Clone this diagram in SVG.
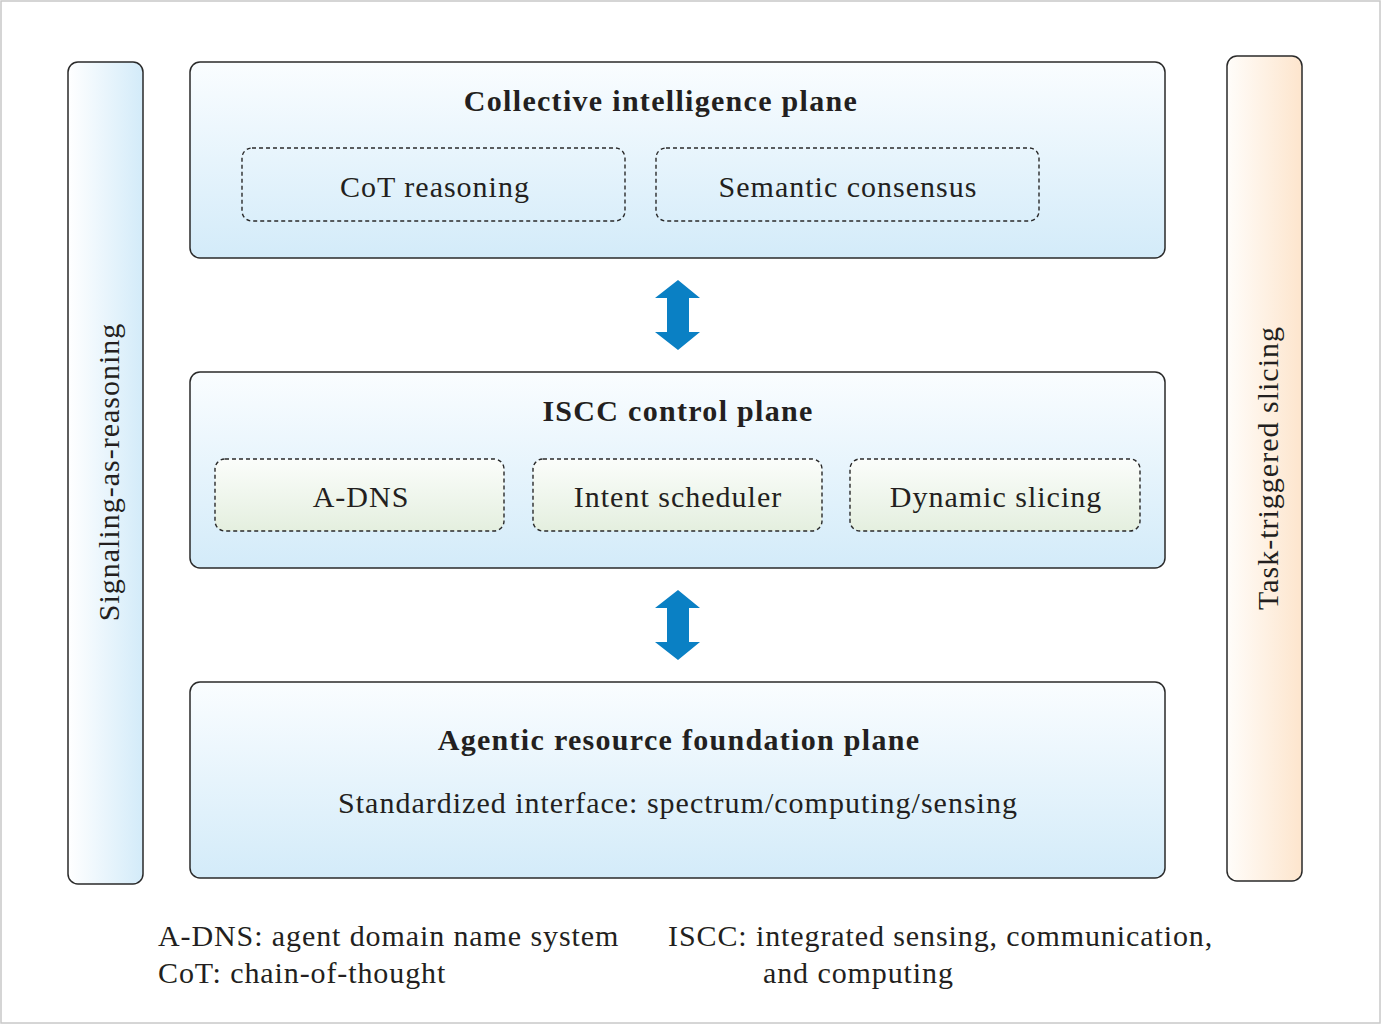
<svg xmlns="http://www.w3.org/2000/svg" width="1382" height="1025" viewBox="0 0 1382 1025">
<defs>
<linearGradient id="gPlane" x1="0" y1="0" x2="0" y2="1"><stop offset="0" stop-color="#fafdff"/><stop offset="1" stop-color="#d3ebf9"/></linearGradient>
<linearGradient id="gLeft" x1="0" y1="0" x2="1" y2="0"><stop offset="0" stop-color="#ffffff"/><stop offset="1" stop-color="#d3ebf9"/></linearGradient>
<linearGradient id="gRight" x1="0" y1="0" x2="1" y2="0"><stop offset="0" stop-color="#fffdfa"/><stop offset="1" stop-color="#fde5cd"/></linearGradient>
<linearGradient id="gGreen" x1="0" y1="0" x2="0" y2="1"><stop offset="0" stop-color="#fbfdfb"/><stop offset="1" stop-color="#e4efdf"/></linearGradient>
<style>
.plane{stroke:#2a2a2a;stroke-width:1.5;fill:url(#gPlane)}
.side{stroke:#2a2a2a;stroke-width:1.5}
.dash{fill:none;stroke:#2a2a2a;stroke-width:1.4;stroke-dasharray:4 3}
.dashg{fill:url(#gGreen);stroke:#2a2a2a;stroke-width:1.4;stroke-dasharray:4 3}
text{font-family:"Liberation Serif","DejaVu Serif",serif;fill:#231f20}
.t{font-size:30px;font-weight:bold;text-anchor:middle;letter-spacing:1.3px}
.l{font-size:30px;text-anchor:middle;letter-spacing:1px}
.f{font-size:30px;letter-spacing:0.9px}
.arrow{fill:#0a80c4}
</style>
</defs>
<rect x="1" y="1" width="1379" height="1022" fill="#ffffff" stroke="#c8c8c8" stroke-width="1.5"/>
<g id="side-left"><rect class="side" x="68" y="62" width="75" height="822" rx="10" fill="url(#gLeft)"/><text class="l" transform="translate(119,472) rotate(-90)">Signaling-as-reasoning</text></g>
<g id="side-right"><rect class="side" x="1227" y="56" width="75" height="825" rx="10" fill="url(#gRight)"/><text class="l" transform="translate(1278,468) rotate(-90)">Task-triggered slicing</text></g>
<g id="plane-ci"><rect class="plane" x="190" y="62" width="975" height="196" rx="10"/><text class="t" x="661" y="111">Collective intelligence plane</text>
<g id="cot"><rect class="dash" x="242" y="148" width="383" height="73" rx="10"/><text class="l" x="435" y="197">CoT reasoning</text></g>
<g id="consensus"><rect class="dash" x="656" y="148" width="383" height="73" rx="10"/><text class="l" x="848" y="197">Semantic consensus</text></g></g>
<g id="plane-iscc"><rect class="plane" x="190" y="372" width="975" height="196" rx="10"/><text class="t" x="678" y="421">ISCC control plane</text>
<g id="adns"><rect class="dashg" x="215" y="459" width="289" height="72" rx="10"/><text class="l" x="361" y="507">A-DNS</text></g>
<g id="intent"><rect class="dashg" x="533" y="459" width="289" height="72" rx="10"/><text class="l" x="678" y="507">Intent scheduler</text></g>
<g id="slicing"><rect class="dashg" x="850" y="459" width="290" height="72" rx="10"/><text class="l" x="996" y="507">Dynamic slicing</text></g></g>
<g id="plane-arf"><rect class="plane" x="190" y="682" width="975" height="196" rx="10"/><text class="t" x="679" y="750">Agentic resource foundation plane</text><text class="l" x="678" y="813">Standardized interface: spectrum/computing/sensing</text></g>
<g id="connectors">
<polygon class="arrow" points="678,280 700,298 689,298 689,332 700,332 678,350 655,332 667,332 667,298 655,298"/>
<polygon class="arrow" points="678,590 700,608 689,608 689,642 700,642 678,660 655,642 667,642 667,608 655,608"/>
</g>
<g id="legend">
<text class="f" x="158" y="946">A-DNS: agent domain name system</text>
<text class="f" x="158" y="983">CoT: chain-of-thought</text>
<text class="f" x="668" y="946">ISCC: integrated sensing, communication,</text>
<text class="f" x="763" y="983">and computing</text>
</g>
</svg>
